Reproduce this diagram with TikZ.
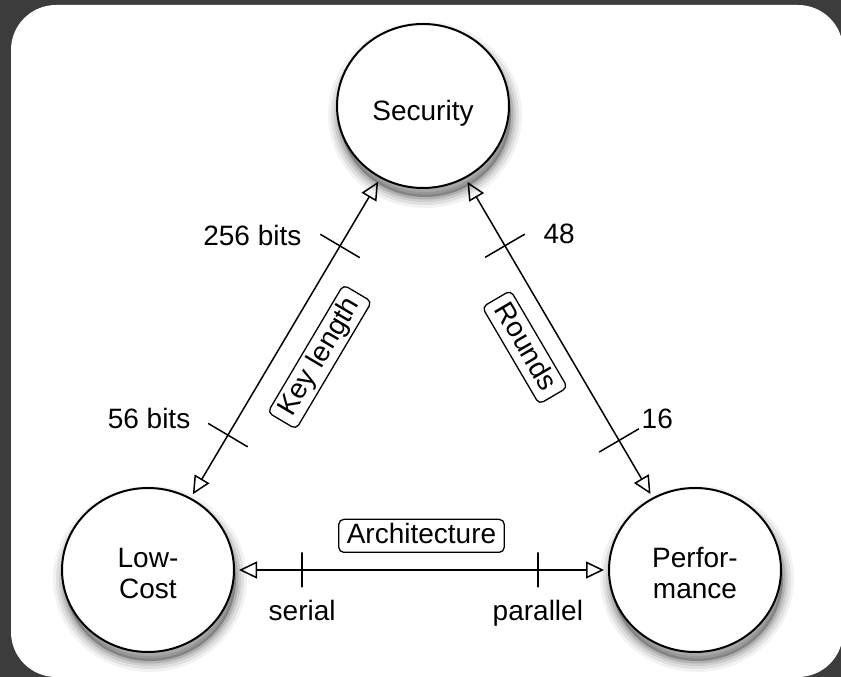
\documentclass[tikz,border=0pt]{standalone}
\usepackage{fontspec}
\setmainfont{Liberation Sans}
\usetikzlibrary{arrows.meta,shapes.geometric,positioning}
\definecolor{slate}{HTML}{3C3C3C}
\tikzset{
  shade/.style 2 args={preaction={draw=black, opacity=#1, line width=#2,
    transform canvas={shift={(2pt,-9pt)}}}},
  goal/.style={ellipse, draw, line width=2pt, fill=white, align=center,
    minimum width=172pt, minimum height=164pt,
    preaction={fill=black, opacity=.25, transform canvas={shift={(2pt,-9pt)}}},
    shade={.12}{5pt}, shade={.09}{10pt}, shade={.07}{16pt}, shade={.05}{22pt}},
  link/.style={line width=1.5pt, shorten <=4pt, shorten >=4pt,
    {Triangle[open,length=18pt,width=17pt]}-{Triangle[open,length=18pt,width=17pt]}},
  tickd/.style={draw, line width=1.5pt, sloped, inner sep=0pt, minimum width=0pt, minimum height=46pt},
  tickh/.style={tickd, minimum height=35pt},
  tag/.style={draw, line width=1.3pt, rounded corners=5pt, fill=white,
    inner xsep=8pt, inner ysep=4pt, text height=20pt, text depth=5pt},
  lbl/.style={inner sep=0pt}
}
\begin{document}
\begin{tikzpicture}[x=1pt, y=1pt, font=\fontsize{28}{31}\selectfont]
\useasboundingbox (0,0) rectangle (841,677);
\fill[slate] (0,0) rectangle (841,677);
\fill[white, rounded corners=45pt] (11,0) rectangle (843,672);

% the three goals
\node[goal, text height=34pt] (sec) at (423,571) {Security};
\node[goal, text height=58pt] (low) at (148,107) {Low-\\Cost};
\node[goal, text height=58pt] (perf) at (695,107) {Perfor-\\mance};

% trade-offs
\draw[link] (low) -- (sec)
  node[tickd, pos=.196] (t56) {}
  node[tickd, pos=.788] (t256) {}
  node[tag, pos=.503, sloped, below=22pt] (keylen) {Key length};
\draw[link] (sec) -- (perf)
  node[tickd, pos=.211] (t48) {}
  node[tickd, pos=.821] (t16) {}
  node[tag, pos=.475, sloped, below=17pt] (rounds) {Rounds};
\draw[link] (low) -- (perf)
  node[tickh, pos=.18] (tser) {}
  node[tickh, pos=.812] (tpar) {}
  node[tag, pos=.5, above=17pt] (arch) {Architecture};

% scale values
\node[lbl, anchor=east] at ([xshift=-18pt, yshift=-2pt]t256.north) {256 bits};
\node[lbl, anchor=east] at ([xshift=-17pt, yshift=5pt]t56.north) {56 bits};
\node[lbl, anchor=west] at ([xshift=18pt, yshift=0pt]t48.north) {48};
\node[lbl, anchor=west] at ([xshift=2pt, yshift=10pt]t16.north) {16};
\node[lbl, below=12pt of tser.south] {serial};
\node[lbl, below=12pt of tpar.south] {parallel};
\end{tikzpicture}
\end{document}
